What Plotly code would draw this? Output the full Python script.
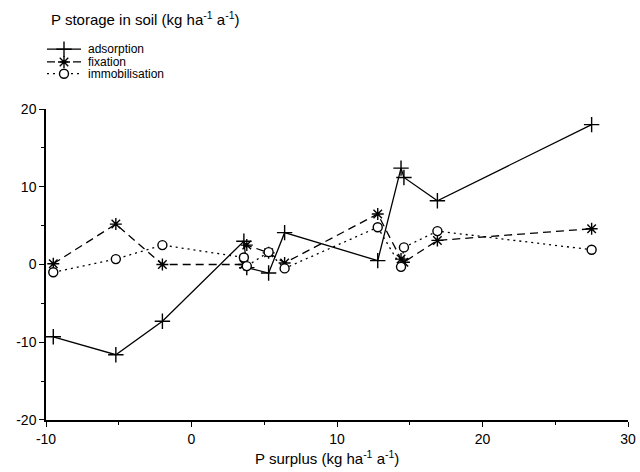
import plotly.graph_objects as go

# ---- data ----
p_surplus = [-9.5, -5.2, -2.0, 3.6, 3.8, 5.3, 6.4, 12.8, 14.4, 14.6, 16.9, 27.5]
adsorption = [-9.3, -11.6, -7.3, 3.0, -0.4, -1.1, 4.1, 0.5, 12.4, 11.2, 8.2, 18.0]
fixation = [0.1, 5.2, 0.0, 0.0, 2.5, 1.5, 0.2, 6.5, 0.7, 0.3, 3.1, 4.6]
immobilisation = [-1.0, 0.7, 2.5, 0.9, -0.2, 1.6, -0.5, 4.8, -0.3, 2.2, 4.3, 1.9]

series_names = ["adsorption", "fixation", "immobilisation"]
x_ticks = [-10, 0, 10, 20, 30]
x_ticklabels = ["-10", "0", "10", "20", "30"]
y_ticks = [-20, -10, 0, 10, 20]
y_ticklabels = ["-20", "-10", "0", "10", "20"]

FONT = "Liberation Sans, Arial, sans-serif"
W, H = 640, 472
ML, MR, MB = 46, 12, 52
PLOT_TOP = 103
paper_h = H - MB
paper_w = W - ML - MR

styles = [
    dict(dash="solid", symbol="cross-thin", size=11, fill="black"),
    dict(dash="8px,5px", symbol="asterisk", size=10, fill="black"),
    dict(dash="2px,4px", symbol="circle", size=9, fill="white"),
]
values = [adsorption, fixation, immobilisation]

fig = go.Figure()
for name, vals, st in zip(series_names, values, styles):
    fig.add_trace(go.Scatter(
        x=p_surplus, y=vals, mode="lines+markers", name=name,
        line=dict(color="black", width=1.3, dash=st["dash"]),
        marker=dict(symbol=st["symbol"], size=st["size"], color=st["fill"],
                    line=dict(color="black", width=1.4)),
        showlegend=False, xaxis="x", yaxis="y",
    ))

# ---- hand-made compact legend (pixel-coordinate overlay axes) ----
leg_rows = [42, 55, 67]
for name, st, yy in zip(series_names, styles, leg_rows):
    fig.add_trace(go.Scatter(
        x=[1, 18, 35], y=[yy, yy, yy], mode="lines",
        line=dict(color="black", width=1.3, dash=st["dash"]),
        showlegend=False, xaxis="x2", yaxis="y2", hoverinfo="skip",
    ))
    fig.add_trace(go.Scatter(
        x=[18], y=[yy], mode="markers",
        marker=dict(symbol=st["symbol"], size=st["size"], color=st["fill"],
                    line=dict(color="black", width=1.4)),
        showlegend=False, xaxis="x2", yaxis="y2", hoverinfo="skip",
    ))
    fig.add_annotation(x=40, y=yy, xref="x2", yref="y2", text=name,
                       showarrow=False, xanchor="left", yanchor="middle",
                       font=dict(family=FONT, size=12, color="black"))

fig.add_annotation(x=3, y=11, xref="x2", yref="y2",
                   text="P storage in soil (kg ha<sup>-1</sup> a<sup>-1</sup>)",
                   showarrow=False, xanchor="left", yanchor="middle",
                   font=dict(family=FONT, size=15, color="black"))

fig.add_annotation(x=(paper_w / 2) - 10, y=-(458 - paper_h) / paper_h,
                   xref="x2", yref="paper",
                   text="P surplus (kg ha<sup>-1</sup> a<sup>-1</sup>)",
                   showarrow=False, xanchor="center", yanchor="middle",
                   font=dict(family=FONT, size=15, color="black"))

axis_common = dict(
    showline=True, linecolor="black", linewidth=1.5, mirror=False,
    ticks="outside", ticklen=5, tickwidth=1.3, tickcolor="black",
    showgrid=False, zeroline=False,
    tickfont=dict(family=FONT, size=14, color="black"),
)

fig.update_layout(
    width=W, height=H,
    margin=dict(l=ML, r=MR, t=0, b=MB, pad=0),
    paper_bgcolor="white", plot_bgcolor="rgba(0,0,0,0)",
    font=dict(family=FONT, color="black"),
    xaxis=dict(range=[-10, 30], tickvals=x_ticks, ticktext=x_ticklabels, domain=[0, 1],
               minor=dict(dtick=5, ticks="outside", ticklen=3, tickcolor="black", tickwidth=1.2),
               anchor="y", **axis_common),
    yaxis=dict(range=[-20, 20], tickvals=y_ticks, ticktext=y_ticklabels,
               domain=[0, (paper_h - PLOT_TOP) / paper_h],
               minor=dict(dtick=5, ticks="outside", ticklen=3, tickcolor="black", tickwidth=1.2),
               anchor="x", **axis_common),
    xaxis2=dict(range=[0, paper_w], domain=[0, 1], visible=False, anchor="y2", fixedrange=True),
    yaxis2=dict(range=[paper_h, 0], domain=[0, 1], visible=False, anchor="x2", fixedrange=True),
)

fig.write_html("out.html")
